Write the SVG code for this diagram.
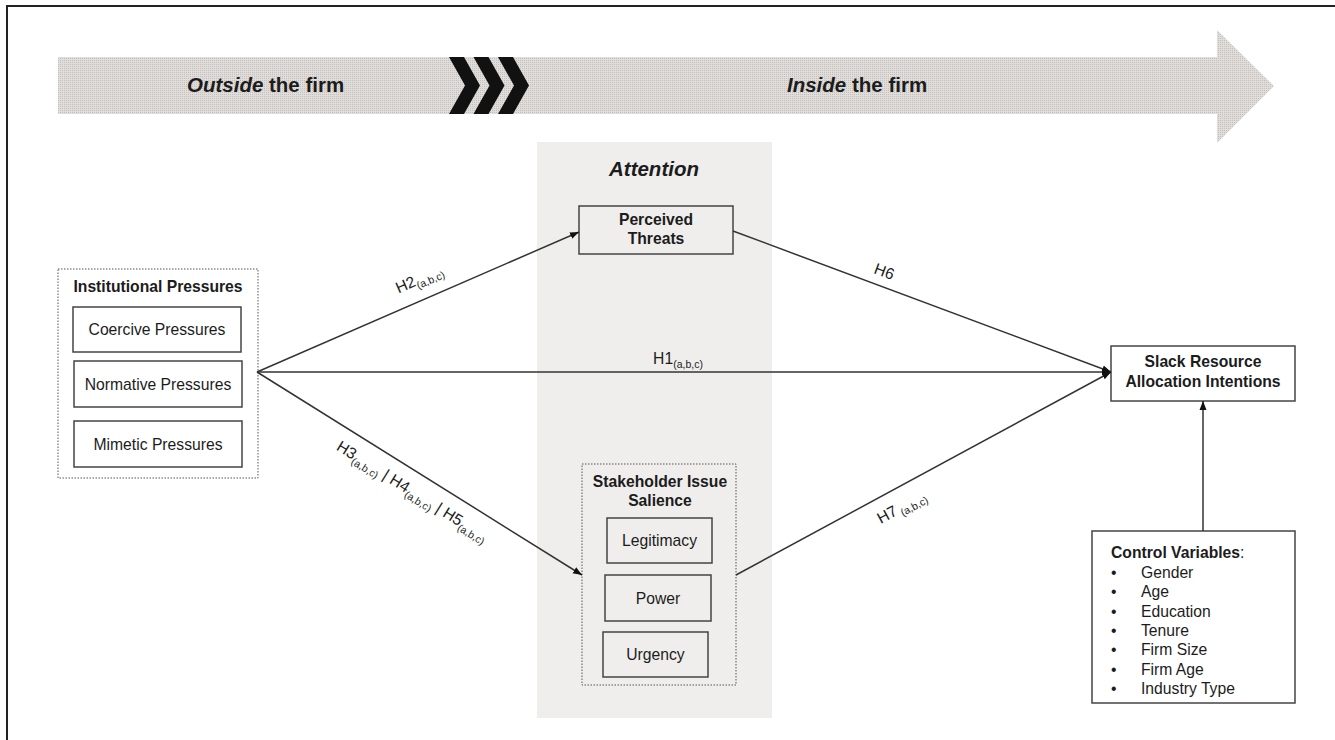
<svg xmlns="http://www.w3.org/2000/svg" width="1335" height="740" viewBox="0 0 1335 740">
<defs>
<pattern id="stip" width="2" height="2" patternUnits="userSpaceOnUse">
<rect width="2" height="2" fill="#e0ddda"/>
<rect width="1" height="1" fill="#c2bfbc"/>
</pattern>
<marker id="arr" markerWidth="10" markerHeight="8" refX="9" refY="4" orient="auto" markerUnits="userSpaceOnUse">
<path d="M0,0.5 L9,4 L0,7.5 Z" fill="#111"/>
</marker>
</defs>
<style>
text{font-family:"Liberation Sans",Arial,sans-serif;fill:#1c1c1c}
.t{font-size:15.7px}
.b{font-size:15.7px;font-weight:bold}
.big{font-size:20.5px;font-weight:bold}
.box{fill:#fff;stroke:#444;stroke-width:1.5}
.gbox{fill:#efeeed;stroke:#444;stroke-width:1.5}
.dot{fill:#fff;stroke:#555;stroke-width:1;stroke-dasharray:1.5 1.5}
.gdot{fill:#efeeed;stroke:#555;stroke-width:1;stroke-dasharray:1.5 1.5}
.c{fill:none;stroke:#333;stroke-width:1.5}
.sub{font-size:10.5px}
.lbl{font-size:15.7px}
</style>
<rect width="1335" height="740" fill="#fff"/>
<path d="M7,740 V6 H1335" fill="none" stroke="#222" stroke-width="2"/>

<g id="band">
<polygon points="58,57 1217,57 1217,30 1274,86 1217,143 1217,114 58,114" fill="url(#stip)"/>
<polygon points="449,57 464,57 480,85.5 464,114 449,114 465,85.5" fill="#111"/>
<polygon points="473.5,57 488.5,57 504.5,85.5 488.5,114 473.5,114 489.5,85.5" fill="#111"/>
<polygon points="498,57 513,57 529,85.5 513,114 498,114 514,85.5" fill="#111"/>
<text class="big" x="187" y="92"><tspan font-style="italic">Outside</tspan> the firm</text>
<text class="big" x="787" y="92"><tspan font-style="italic">Inside</tspan> the firm</text>
</g>

<g id="attention">
<rect x="537" y="142" width="235" height="576" fill="#efeeed"/>
<text class="big" x="654" y="176" text-anchor="middle" font-style="italic">Attention</text>
</g>

<g id="institutional">
<rect class="dot" x="58" y="269" width="200" height="209"/>
<text class="b" x="158" y="292" text-anchor="middle">Institutional Pressures</text>
<rect class="box" x="73" y="307" width="168" height="45"/>
<text class="t" x="157" y="335" text-anchor="middle">Coercive Pressures</text>
<rect class="box" x="74" y="361" width="168" height="46"/>
<text class="t" x="158" y="389.5" text-anchor="middle">Normative Pressures</text>
<rect class="box" x="74" y="421" width="168" height="46"/>
<text class="t" x="158" y="449.5" text-anchor="middle">Mimetic Pressures</text>
</g>

<g id="perceived">
<rect class="gbox" x="579" y="206" width="154" height="48"/>
<text class="b" x="656" y="225" text-anchor="middle">Perceived</text>
<text class="b" x="656" y="244" text-anchor="middle">Threats</text>
</g>

<g id="stakeholder">
<rect class="gdot" x="582" y="464" width="154" height="221"/>
<text class="b" x="660" y="487" text-anchor="middle">Stakeholder Issue</text>
<text class="b" x="660" y="506" text-anchor="middle">Salience</text>
<rect class="gbox" x="607" y="518" width="105" height="45"/>
<text class="t" x="659.5" y="546" text-anchor="middle">Legitimacy</text>
<rect class="gbox" x="605" y="575" width="106" height="46"/>
<text class="t" x="658" y="603.5" text-anchor="middle">Power</text>
<rect class="gbox" x="603" y="632" width="105" height="45"/>
<text class="t" x="655.5" y="659.5" text-anchor="middle">Urgency</text>
</g>

<g id="slack">
<rect class="box" x="1111" y="346" width="184" height="55"/>
<text class="b" x="1203" y="367" text-anchor="middle">Slack Resource</text>
<text class="b" x="1203" y="387" text-anchor="middle">Allocation Intentions</text>
</g>

<g id="control">
<rect class="box" x="1092" y="531" width="203" height="172"/>
<text class="t" x="1111" y="558"><tspan font-weight="bold">Control Variables</tspan>:</text>
<text class="t" x="1111" y="578">•</text><text class="t" x="1141" y="578">Gender</text>
<text class="t" x="1111" y="597.3">•</text><text class="t" x="1141" y="597.3">Age</text>
<text class="t" x="1111" y="616.6">•</text><text class="t" x="1141" y="616.6">Education</text>
<text class="t" x="1111" y="635.9">•</text><text class="t" x="1141" y="635.9">Tenure</text>
<text class="t" x="1111" y="655.2">•</text><text class="t" x="1141" y="655.2">Firm Size</text>
<text class="t" x="1111" y="674.5">•</text><text class="t" x="1141" y="674.5">Firm Age</text>
<text class="t" x="1111" y="693.8">•</text><text class="t" x="1141" y="693.8">Industry Type</text>
</g>

<g id="connectors">
<line class="c" x1="257" y1="372" x2="579" y2="232" marker-end="url(#arr)"/>
<line class="c" x1="257" y1="372" x2="1111" y2="372" marker-end="url(#arr)"/>
<line class="c" x1="257" y1="372" x2="582" y2="575" marker-end="url(#arr)"/>
<line class="c" x1="733" y1="231" x2="1111" y2="372" marker-end="url(#arr)"/>
<line class="c" x1="736" y1="575" x2="1111" y2="372" marker-end="url(#arr)"/>
<line class="c" x1="1203" y1="531" x2="1203" y2="401" marker-end="url(#arr)"/>
<g transform="translate(257,372) rotate(-23.5)">
<text class="lbl" x="161" y="-15.5">H2<tspan class="sub" dy="4">(a,b,c)</tspan></text>
</g>
<text class="lbl" x="678" y="364" text-anchor="middle">H1<tspan class="sub" dy="4">(a,b,c)</tspan></text>
<g transform="translate(733,231) rotate(20.46)">
<text class="lbl" x="156" y="-9.5" text-anchor="middle">H6</text>
</g>
<g transform="translate(736,575) rotate(-28.43)">
<text class="lbl" x="178" y="24" text-anchor="middle">H7<tspan class="sub" dx="3" dy="4">(a,b,c)</tspan></text>
</g>
<g transform="translate(257,372) rotate(31.99)">
<text class="lbl" x="195" y="24" text-anchor="middle">H3<tspan class="sub" dy="4">(a,b,c)</tspan><tspan dy="-4"> | H4</tspan><tspan class="sub" dy="4">(a,b,c)</tspan><tspan dy="-4"> | H5</tspan><tspan class="sub" dy="4">(a,b,c)</tspan></text>
</g>
</g>
</svg>
